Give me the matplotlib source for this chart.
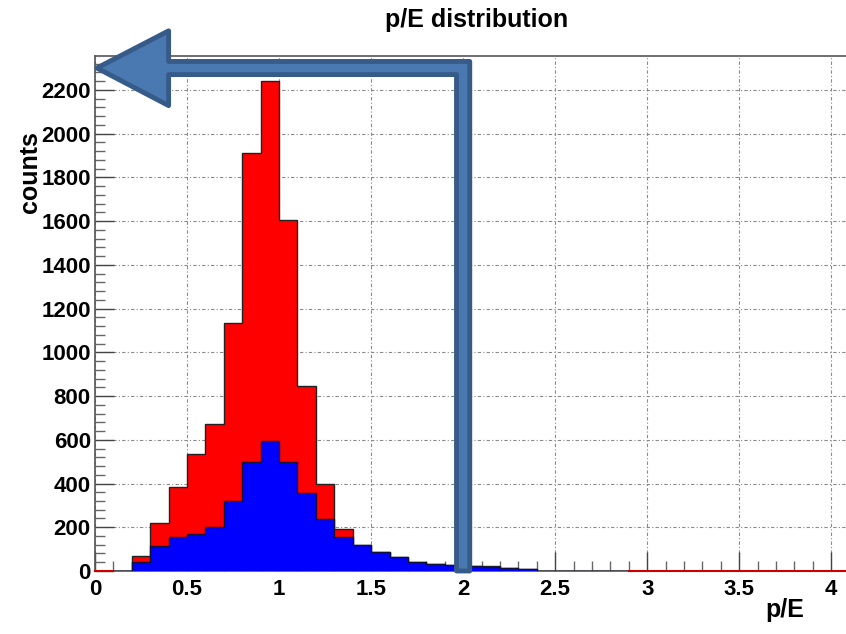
import numpy as np
import matplotlib.pyplot as plt
from matplotlib.patches import Polygon
from matplotlib.ticker import MultipleLocator

plt.rcParams['font.family'] = ['Liberation Sans', 'DejaVu Sans']
plt.rcParams['font.weight'] = 'bold'

# bin edges 0..4.1 in steps of 0.1
edges = np.round(np.arange(0, 4.11, 0.1), 2)

# all candidates (red) and the selected ones (blue), per 0.1 bin
red_counts = [2, 0, 68, 218, 385, 533, 674, 1135, 1910, 2240,
              1605, 845, 400, 190, 119, 85, 62, 42, 32, 27,
              25, 22, 15, 9, 2, 1, 1, 1, 1, 0,
              0, 0, 0, 0, 0, 0, 0, 0, 0, 0, 0]
blue_counts = [0, 0, 42, 116, 154, 167, 202, 320, 499, 595,
               499, 355, 237, 155, 119, 85, 62, 42, 32, 27,
               21, 17, 13, 8, 0, 0, 0, 0, 0, 0,
               0, 0, 0, 0, 0, 0, 0, 0, 0, 0, 0]

# cut marker drawn on top of the plot
cut_x = 2.0
cut_y = 2300

fig = plt.figure(figsize=(8.46, 6.34), dpi=100)
ax = fig.add_axes([0.1123, 0.0994, 0.8877, 0.8123])

ax.stairs(red_counts, edges, fill=True, color='#ff0000', zorder=2)
ax.stairs(red_counts, edges, color='#222222', lw=1.0, zorder=3)
ax.stairs(blue_counts, edges, fill=True, color='#0000ff', zorder=4)
ax.stairs(blue_counts, edges, color='#111133', lw=1.0, zorder=5)
ax.plot([0, 0.1], [0, 0], color='#cc0000', lw=1.5, zorder=6, clip_on=False)
ax.plot([2.9, 4.1], [0, 0], color='#cc0000', lw=1.5, zorder=6, clip_on=False)

ax.set_xlim(0, 4.08)
ax.set_ylim(0, 2355)

ax.xaxis.set_major_locator(MultipleLocator(0.5))
ax.xaxis.set_minor_locator(MultipleLocator(0.1))
ax.yaxis.set_major_locator(MultipleLocator(200))
ax.yaxis.set_minor_locator(MultipleLocator(40))
ax.set_xticks(np.arange(0, 4.01, 0.5))
ax.set_xticklabels(['0', '0.5', '1', '1.5', '2', '2.5', '3', '3.5', '4'])

ax.tick_params(which='both', direction='in', top=False, right=False, labelsize=16)
ax.tick_params(which='major', length=14, width=1, color='#444444')
ax.tick_params(which='minor', length=7, width=1, color='#666666')
ax.tick_params(axis='x', pad=6)
ax.tick_params(axis='y', pad=3)

ax.grid(True, which='major', color='#8a8a8a', lw=0.8, ls=(0, (3, 2, 1, 2)))
ax.set_axisbelow(True)
for s in ['top', 'left', 'bottom']:
    ax.spines[s].set_color('#555555')
    ax.spines[s].set_linewidth(1.2)
ax.spines['right'].set_visible(False)

# L-shaped arrow from the cut value back to zero
hw, hh = 0.036, 30
tip_x, base_x = 0.01, 0.40
pts = [(cut_x + hw, 0), (cut_x + hw, cut_y + hh), (base_x, cut_y + hh),
       (base_x, 2470), (tip_x, cut_y), (base_x, 2128),
       (base_x, cut_y - hh), (cut_x - hw, cut_y - hh), (cut_x - hw, 0)]
arrow = Polygon(pts, closed=True, facecolor='#4a78b0', edgecolor='#375b88',
                lw=3.5, zorder=10, clip_on=False, joinstyle='round')
ax.add_patch(arrow)

fig.text(477 / 846, 1 - 20 / 634, 'p/E distribution', ha='center', va='center',
         fontsize=18, fontweight='bold')
fig.text(30 / 846, 1 - 172 / 634, 'counts', rotation=90, ha='center', va='center',
         fontsize=18, fontweight='bold')
fig.text(785 / 846, 1 - 610 / 634, 'p/E', ha='center', va='center',
         fontsize=18, fontweight='bold')

fig.savefig('out.png', dpi=100)
